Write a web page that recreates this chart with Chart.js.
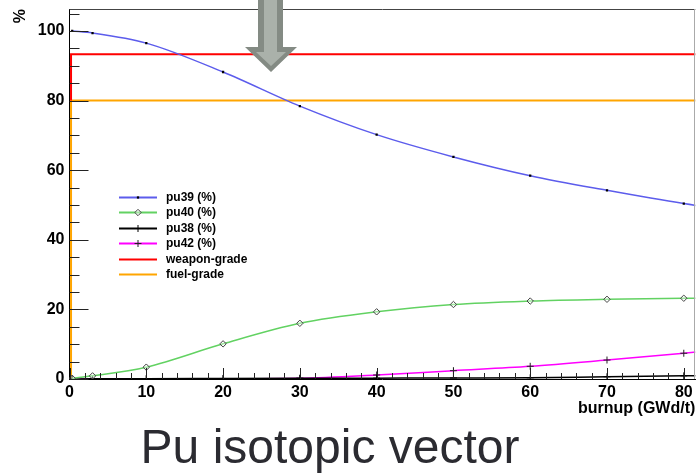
<!DOCTYPE html>
<html lang="en">
<head>
    <meta charset="UTF-8">
    <title>Pu isotopic vector</title>
    <script src="https://cdn.jsdelivr.net/npm/chart.js"></script>
    <style>
        body {
            margin: 0;
            padding: 0;
            background-color: #fff;
        }
        .wrap {
            position: relative;
            width: 696px;
            height: 474px;
        }
    </style>
</head>
<body>
    <div class="wrap">
        <canvas id="puChart" width="696" height="474"></canvas>
    </div>

    <script>
        // burnup steps (GWd/t) and isotope fractions (%)
        const burnup = [0.35, 3, 10, 20, 30, 40, 50, 60, 70, 80, 90];
        const pu39 = [100, 99.4, 96.5, 88.2, 78.4, 70.2, 63.8, 58.4, 54.2, 50.4, 47.3];
        const pu40 = [0.2, 0.9, 3.4, 10.1, 16.0, 19.3, 21.4, 22.4, 22.9, 23.2, 23.4];
        const pu38 = [0, 0.05, 0.1, 0.15, 0.2, 0.25, 0.3, 0.35, 0.65, 0.9, 1.1];
        const pu42 = [0, 0, 0, 0.05, 0.2, 1.15, 2.4, 3.65, 5.45, 7.4, 9.5];

        // grade limits
        const weaponGrade = 93.3;
        const fuelGrade = 80;
        const gradeStart = 0.2;
        const gradeEnd = 90;

        const xTicks = [0, 10, 20, 30, 40, 50, 60, 70, 80];
        const yTicks = [0, 20, 40, 60, 80, 100];

        const toPoints = ys => burnup.map((x, i) => ({ x: x, y: ys[i] }));
        const boldFont = { family: '"Liberation Sans", Arial, sans-serif', weight: 'bold', size: 16 };

        // no extra label padding, keep the plot frame where it is
        function noPad(s) {
            s.paddingTop = 0;
            s.paddingBottom = 0;
            s.paddingLeft = 0;
            s.paddingRight = 0;
        }

        // ROOT style frame, inside ticks, legend, arrow and slide title
        const rootFrame = {
            id: 'rootFrame',
            afterDraw(chart) {
                const ctx = chart.ctx;
                const a = chart.chartArea;
                const xs = chart.scales.x;
                const ys = chart.scales.y;
                ctx.save();

                // top + right frame
                ctx.lineWidth = 1;
                ctx.strokeStyle = '#444';
                ctx.beginPath();
                ctx.moveTo(a.left, Math.round(a.top) + 0.5);
                ctx.lineTo(a.right, Math.round(a.top) + 0.5);
                ctx.stroke();
                ctx.strokeStyle = '#aaa';
                ctx.beginPath();
                ctx.moveTo(Math.round(a.right) - 0.5, a.top);
                ctx.lineTo(Math.round(a.right) - 0.5, a.bottom);
                ctx.stroke();

                // inside ticks
                ctx.strokeStyle = '#222';
                for (let v = 0; v <= 105; v += 5) {
                    const py = Math.round(ys.getPixelForValue(v)) + 0.5;
                    const len = v % 20 === 0 ? 19 : 10;
                    ctx.beginPath();
                    ctx.moveTo(a.left, py);
                    ctx.lineTo(a.left + len, py);
                    ctx.stroke();
                }
                for (let v = 0; v <= 80; v += 2) {
                    const px = Math.round(xs.getPixelForValue(v)) + 0.5;
                    const len = v % 10 === 0 ? 11 : 6;
                    ctx.beginPath();
                    ctx.moveTo(px, a.bottom);
                    ctx.lineTo(px, a.bottom - len);
                    ctx.stroke();
                }

                // legend
                const lx = 119, ly = 197, step = 15.4;
                chart.data.datasets.forEach((ds, i) => {
                    const y = Math.round(ly + i * step) + 0.5;
                    ctx.strokeStyle = ds.borderColor;
                    ctx.lineWidth = 2;
                    ctx.beginPath();
                    ctx.moveTo(lx, y);
                    ctx.lineTo(lx + 38, y);
                    ctx.stroke();
                    if (ds.pointRadius > 0) {
                        ctx.fillStyle = ds.pointBackgroundColor;
                        ctx.strokeStyle = ds.pointBorderColor;
                        ctx.lineWidth = ds.pointBorderWidth;
                        Chart.helpers.drawPoint(ctx, {
                            pointStyle: ds.pointStyle,
                            radius: ds.pointRadius,
                            borderWidth: ds.pointBorderWidth,
                            rotation: 0
                        }, lx + 19, y);
                    }
                    ctx.fillStyle = '#000';
                    ctx.font = 'bold 12px "Liberation Sans", Arial, sans-serif';
                    ctx.textAlign = 'left';
                    ctx.textBaseline = 'middle';
                    ctx.fillText(ds.label, 166, y);
                });

                // grey arrow pointing down
                ctx.fillStyle = '#848b84';
                ctx.beginPath();
                ctx.moveTo(258, 0);
                ctx.lineTo(283, 0);
                ctx.lineTo(283, 47);
                ctx.lineTo(297, 47);
                ctx.lineTo(271, 72);
                ctx.lineTo(245, 47);
                ctx.lineTo(258, 47);
                ctx.closePath();
                ctx.fill();
                ctx.fillStyle = '#aab1aa';
                ctx.beginPath();
                ctx.moveTo(264, 0);
                ctx.lineTo(277, 0);
                ctx.lineTo(277, 52);
                ctx.lineTo(286, 52);
                ctx.lineTo(271, 66);
                ctx.lineTo(256, 52);
                ctx.lineTo(264, 52);
                ctx.closePath();
                ctx.fill();

                // slide title
                ctx.fillStyle = '#2b2b31';
                ctx.font = '48px "Liberation Sans", Arial, sans-serif';
                ctx.textAlign = 'center';
                ctx.textBaseline = 'alphabetic';
                ctx.fillText('Pu isotopic vector', 330, 463);

                ctx.restore();
            }
        };

        const chart = new Chart(document.getElementById('puChart').getContext('2d'), {
            type: 'scatter',
            data: {
                datasets: [
                    {
                        label: 'pu39 (%)',
                        data: toPoints(pu39),
                        showLine: true,
                        borderColor: '#5c5cec',
                        borderWidth: 1.5,
                        cubicInterpolationMode: 'monotone',
                        pointStyle: 'rect',
                        pointRadius: 1.6,
                        pointBackgroundColor: '#000',
                        pointBorderColor: '#000',
                        pointBorderWidth: 0,
                        clip: 0
                    },
                    {
                        label: 'pu40 (%)',
                        data: toPoints(pu40),
                        showLine: true,
                        borderColor: '#62d262',
                        borderWidth: 1.5,
                        cubicInterpolationMode: 'monotone',
                        pointStyle: 'rectRot',
                        pointRadius: 3.2,
                        pointBackgroundColor: 'rgba(255,255,255,0.4)',
                        pointBorderColor: '#444',
                        pointBorderWidth: 1,
                        clip: 0
                    },
                    {
                        label: 'pu38 (%)',
                        data: toPoints(pu38),
                        showLine: true,
                        borderColor: '#000',
                        borderWidth: 1.5,
                        cubicInterpolationMode: 'monotone',
                        pointStyle: 'cross',
                        pointRadius: 3.5,
                        pointBackgroundColor: '#000',
                        pointBorderColor: '#000',
                        pointBorderWidth: 1,
                        clip: 0
                    },
                    {
                        label: 'pu42 (%)',
                        data: toPoints(pu42),
                        showLine: true,
                        borderColor: '#ff00ff',
                        borderWidth: 1.5,
                        cubicInterpolationMode: 'monotone',
                        pointStyle: 'cross',
                        pointRadius: 3.5,
                        pointBackgroundColor: '#222',
                        pointBorderColor: '#222',
                        pointBorderWidth: 1,
                        clip: 0
                    },
                    {
                        label: 'weapon-grade',
                        data: [
                            { x: gradeStart, y: fuelGrade },
                            { x: gradeStart, y: weaponGrade },
                            { x: gradeEnd, y: weaponGrade }
                        ],
                        showLine: true,
                        borderColor: '#ff0000',
                        borderWidth: 2,
                        pointRadius: 0,
                        clip: 0
                    },
                    {
                        label: 'fuel-grade',
                        data: [
                            { x: gradeStart, y: 0 },
                            { x: gradeStart, y: fuelGrade },
                            { x: gradeEnd, y: fuelGrade }
                        ],
                        showLine: true,
                        borderColor: '#ffa500',
                        borderWidth: 2,
                        pointRadius: 0,
                        clip: 0
                    }
                ]
            },
            options: {
                responsive: false,
                animation: false,
                devicePixelRatio: 1,
                layout: {
                    autoPadding: false,
                    padding: { top: 9, right: 0.7, left: 0, bottom: 56 }
                },
                plugins: {
                    legend: { display: false },
                    tooltip: { enabled: false }
                },
                scales: {
                    x: {
                        type: 'linear',
                        min: 0,
                        max: 81.5,
                        grid: { display: false, drawTicks: false },
                        border: { display: true, color: '#000', width: 1 },
                        ticks: {
                            font: boldFont,
                            color: '#000',
                            padding: 4,
                            maxRotation: 0,
                            autoSkip: false
                        },
                        afterBuildTicks: s => { s.ticks = xTicks.map(v => ({ value: v })); },
                        afterFit: s => { s.height = 39; noPad(s); },
                        title: {
                            display: true,
                            text: 'burnup (GWd/t)',
                            align: 'end',
                            color: '#000',
                            font: boldFont,
                            padding: { top: 0, bottom: 0 }
                        }
                    },
                    y: {
                        min: 0,
                        max: 106.3,
                        grid: { display: false, drawTicks: false },
                        border: { display: true, color: '#000', width: 1 },
                        ticks: {
                            font: boldFont,
                            color: '#000',
                            padding: 5
                        },
                        afterBuildTicks: s => { s.ticks = yTicks.map(v => ({ value: v })); },
                        afterFit: s => { s.width = 69.5; noPad(s); },
                        title: {
                            display: true,
                            text: '%',
                            align: 'end',
                            color: '#000',
                            font: boldFont,
                            padding: { top: 11, bottom: 0 }
                        }
                    }
                }
            },
            plugins: [rootFrame]
        });
    </script>
</body>
</html>
